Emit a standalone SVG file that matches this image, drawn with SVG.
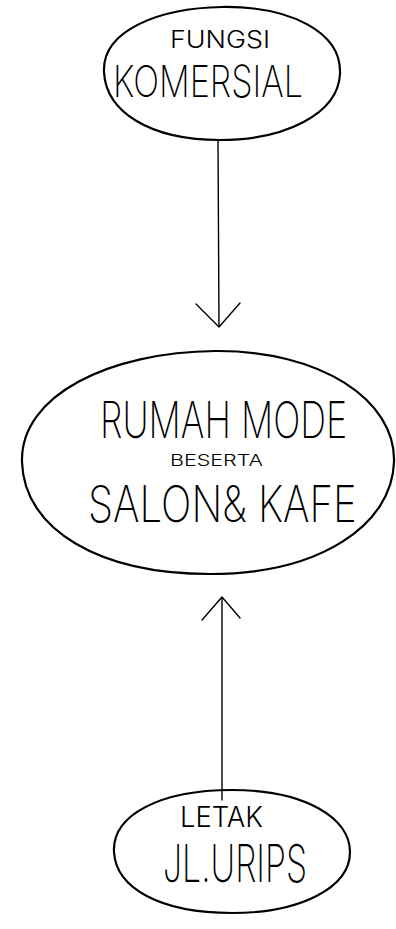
<svg xmlns="http://www.w3.org/2000/svg" width="396" height="929" viewBox="0 0 396 929">
<style>
.ell{fill:none;stroke:#000;stroke-width:2.2;stroke-linecap:round}
.conn{fill:none;stroke:#000;stroke-width:1.4;stroke-linecap:round;stroke-linejoin:round}
text{font-family:Inter,"Open Sans","Liberation Sans",sans-serif;font-weight:200;fill:#000}
.sm{font-weight:300}
</style>
<rect width="396" height="929" fill="#fff"/>
<g id="node-fungsi">
<path class="ell" d="M104,72 C102,30 160,8 222,7 C290,6 342,32 340,74 C338,114 285,140 220,140 C150,140 106,112 104,72 Z"/>
<text class="sm" x="170" y="48" font-size="24" textLength="100" lengthAdjust="spacingAndGlyphs">FUNGSI</text>
<text x="113" y="97" font-size="44" textLength="190" lengthAdjust="spacingAndGlyphs">KOMERSIAL</text>
</g>
<g id="node-rumah">
<path class="ell" d="M22,462 C20,395 110,352 215,351 C320,350 396,400 394,462 C392,525 320,574 210,574 C100,574 24,530 22,462 Z"/>
<text transform="translate(100,438) scale(0.8,1)" x="0" y="0" font-size="50" textLength="309" lengthAdjust="spacingAndGlyphs">RUMAH MODE</text>
<text class="sm" x="170" y="466" font-size="16" textLength="93" lengthAdjust="spacingAndGlyphs">BESERTA</text>
<text transform="translate(88,522) scale(0.8,1)" x="0" y="0" font-size="50" textLength="336" lengthAdjust="spacingAndGlyphs">SALON&amp; KAFE</text>
</g>
<g id="node-letak">
<path class="ell" d="M114,852 C112,815 160,790 232,790 C305,790 350,818 350,852 C350,888 300,913 232,913 C160,913 116,888 114,852 Z"/>
<text class="sm" x="180" y="827" font-size="28" textLength="83" lengthAdjust="spacingAndGlyphs">LETAK</text>
<text x="163" y="882" font-size="52" textLength="144" lengthAdjust="spacingAndGlyphs">JL.URIPS</text>
</g>
<g id="connectors">
<path class="conn" d="M218,140 L219,326"/>
<path class="conn" d="M196,304 L219,327 L240,303"/>
<path class="conn" d="M222,800 L222,598"/>
<path class="conn" d="M202,620 L222,597 L240,618"/>
</g>
</svg>
